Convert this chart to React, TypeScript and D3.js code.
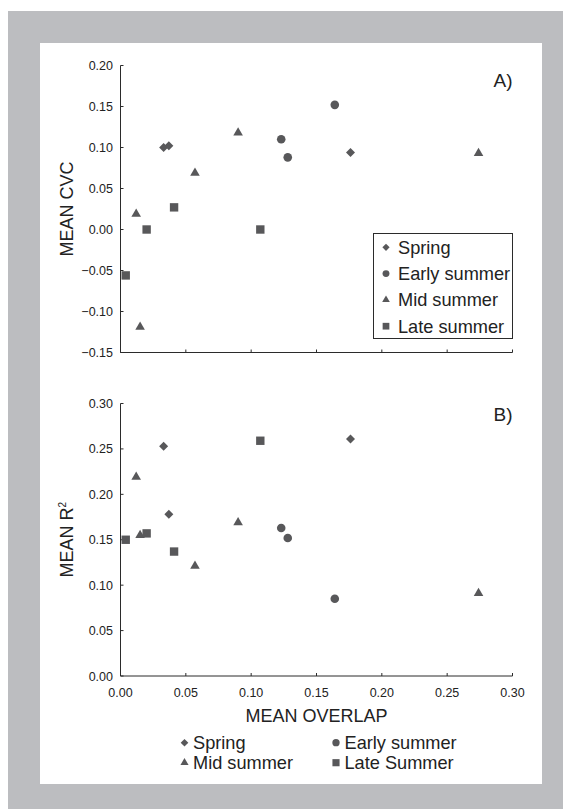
import * as d3 from 'd3';

type Season = 'spring' | 'early' | 'mid' | 'late';

// mean overlap for each site, grouped by season (same x in both panels)
const springOverlap = [0.033, 0.037, 0.176];
const earlyOverlap = [0.123, 0.128, 0.164];
const midOverlap = [0.09, 0.057, 0.012, 0.015, 0.274];
const lateOverlap = [0.041, 0.02, 0.004, 0.107];

// panel A: mean CVC
const springCvc = [0.1, 0.102, 0.094];
const earlyCvc = [0.11, 0.088, 0.152];
const midCvc = [0.118, 0.069, 0.019, -0.119, 0.093];
const lateCvc = [0.027, 0.0, -0.056, 0.0];

// panel B: mean R²
const springR2 = [0.253, 0.178, 0.261];
const earlyR2 = [0.163, 0.152, 0.085];
const midR2 = [0.169, 0.121, 0.219, 0.155, 0.091];
const lateR2 = [0.137, 0.157, 0.15, 0.259];

const xTicks = [0, 0.05, 0.1, 0.15, 0.2, 0.25, 0.3];
const cvcTicks = [0.2, 0.15, 0.1, 0.05, 0, -0.05, -0.1, -0.15];
const r2Ticks = [0.3, 0.25, 0.2, 0.15, 0.1, 0.05, 0];

const insetLegend: [Season, string][] = [
  ['spring', 'Spring'],
  ['early', 'Early summer'],
  ['mid', 'Mid summer'],
  ['late', 'Late summer'],
];
const bottomLegend: [Season, string][] = [
  ['spring', 'Spring'],
  ['early', 'Early summer'],
  ['mid', 'Mid summer'],
  ['late', 'Late Summer'],
];

const INK = '#58585a';
const AXIS = '#2b2b2b';
const FONT = '"Liberation Sans", Arial, Helvetica, sans-serif';

function markerPath(kind: Season, s: number): string {
  // s ~ nominal width in px
  if (kind === 'spring') {
    const r = s / 2;
    return `M0,${-r}L${r},0L0,${r}L${-r},0Z`;
  }
  if (kind === 'early') return d3.symbol(d3.symbolCircle, Math.PI * (s / 2) ** 2)()!;
  if (kind === 'mid') return d3.symbol(d3.symbolTriangle, (Math.sqrt(3) / 4) * s * s)()!;
  return d3.symbol(d3.symbolSquare, s * s)()!;
}

const markerSize: Record<Season, number> = { spring: 9, early: 8.6, mid: 9.6, late: 8.4 };

function zipPoints(xs: number[], ys: number[], kind: Season) {
  return xs.map((x, i) => ({ x, y: ys[i], kind }));
}

const x = d3.scaleLinear().domain([0, 0.3]).range([120.5, 512.5]);
const yA = d3.scaleLinear().domain([-0.15, 0.2]).range([352.5, 65.5]);
const yB = d3.scaleLinear().domain([0, 0.3]).range([676, 403.5]);

function Panel({
  y,
  ticks,
  points,
  showXLabels,
}: {
  y: d3.ScaleLinear<number, number>;
  ticks: number[];
  points: { x: number; y: number; kind: Season }[];
  showXLabels: boolean;
}) {
  const [y0, y1] = y.range();
  return (
    <g>
      {/* axes */}
      <line x1={x(0)} x2={x(0)} y1={y1} y2={y0} stroke={AXIS} strokeWidth={1} />
      <line x1={x(0)} x2={x(0.3)} y1={y0} y2={y0} stroke={AXIS} strokeWidth={1} />
      {ticks.map((t) => (
        <g key={`y${t}`}>
          <line x1={x(0)} x2={x(0) + 3} y1={y(t)} y2={y(t)} stroke={AXIS} />
          <text
            x={113}
            y={y(t)}
            dy="0.36em"
            textAnchor="end"
            fontSize={12.5}
            fill="#222"
          >
            {d3.format('.2f')(t)}
          </text>
        </g>
      ))}
      {xTicks.map((t) => (
        <g key={`x${t}`}>
          <line x1={x(t)} x2={x(t)} y1={y0} y2={y0 - 3} stroke={AXIS} />
          {showXLabels && (
            <text x={x(t)} y={y0 + 20.5} textAnchor="middle" fontSize={12.5} fill="#222">
              {d3.format('.2f')(t)}
            </text>
          )}
        </g>
      ))}
      {/* points */}
      {points.map((p, i) => (
        <path
          key={i}
          d={markerPath(p.kind, markerSize[p.kind])}
          transform={`translate(${x(p.x)},${y(p.y)})`}
          fill={INK}
        />
      ))}
    </g>
  );
}

export default function App() {
  const pointsA = [
    ...zipPoints(springOverlap, springCvc, 'spring'),
    ...zipPoints(earlyOverlap, earlyCvc, 'early'),
    ...zipPoints(midOverlap, midCvc, 'mid'),
    ...zipPoints(lateOverlap, lateCvc, 'late'),
  ];
  const pointsB = [
    ...zipPoints(springOverlap, springR2, 'spring'),
    ...zipPoints(earlyOverlap, earlyR2, 'early'),
    ...zipPoints(midOverlap, midR2, 'mid'),
    ...zipPoints(lateOverlap, lateR2, 'late'),
  ];

  return (
    <svg
      width={563}
      height={809}
      style={{ position: 'absolute', left: 0, top: 0, fontFamily: FONT }}
    >
      {/* frame */}
      <rect x={8} y={11} width={555} height={798} fill="#bcbdc0" />
      <rect x={40} y={43} width={502} height={741} fill="#fff" />

      <Panel y={yA} ticks={cvcTicks} points={pointsA} showXLabels={false} />
      <Panel y={yB} ticks={r2Ticks} points={pointsB} showXLabels={true} />

      {/* panel labels */}
      <text x={512.5} y={87} textAnchor="end" fontSize={19} fill="#222">
        A)
      </text>
      <text x={512.5} y={421} textAnchor="end" fontSize={19} fill="#222">
        B)
      </text>

      {/* axis titles */}
      <text
        transform={`translate(73,${(yA.range()[0] + yA.range()[1]) / 2}) rotate(-90)`}
        textAnchor="middle"
        fontSize={18}
        fill="#222"
      >
        MEAN CVC
      </text>
      <text
        transform={`translate(73,${(yB.range()[0] + yB.range()[1]) / 2}) rotate(-90)`}
        textAnchor="middle"
        fontSize={18}
        fill="#222"
      >
        MEAN R<tspan fontSize={10} dy={-7}>2</tspan>
      </text>
      <text x={316.5} y={721.5} textAnchor="middle" fontSize={18} fill="#222">
        MEAN OVERLAP
      </text>

      {/* inset legend, panel A */}
      <rect x={373.5} y={233.5} width={139} height={105} fill="#fff" stroke={AXIS} />
      {insetLegend.map(([k, label], i) => (
        <g key={k} transform={`translate(0,${247.3 + i * 26.3})`}>
          <path d={markerPath(k, markerSize[k] * 0.8)} transform="translate(386,0)" fill={INK} />
          <text x={398} dy="0.36em" fontSize={18.2} fill="#222">
            {label}
          </text>
        </g>
      ))}

      {/* bottom legend */}
      {bottomLegend.map(([k, label], i) => {
        const col = i % 2;
        const row = Math.floor(i / 2);
        const mx = col === 0 ? 184.5 : 336;
        const cy = 742.7 + row * 20;
        return (
          <g key={k}>
            <path
              d={markerPath(k, markerSize[k] * 0.85)}
              transform={`translate(${mx},${cy})`}
              fill={INK}
            />
            <text x={mx + 8.5} y={cy} dy="0.36em" fontSize={18.2} fill="#222">
              {label}
            </text>
          </g>
        );
      })}
    </svg>
  );
}
